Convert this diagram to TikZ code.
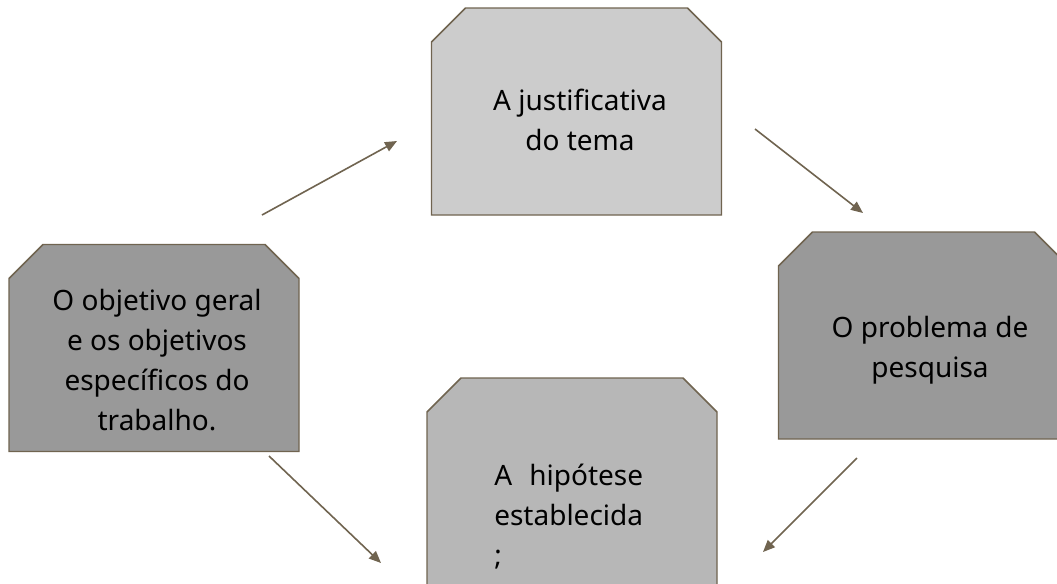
\documentclass[tikz,border=0pt]{standalone}
\usepackage{fontspec}
\usepackage{calc}
\setmainfont{Noto Sans}
\usetikzlibrary{arrows.meta}
\definecolor{linha}{RGB}{112,100,80}
\definecolor{cinzaclaro}{HTML}{CCCCCC}
\definecolor{cinzamedio}{HTML}{B7B7B7}
\definecolor{cinzaescuro}{HTML}{999999}

\begin{document}
\begin{tikzpicture}[x=0.75pt,y=-0.75pt,
		caixa/.pic={\filldraw[draw=linha, line width=1.1pt, fill=#1]
			(-145,103.5) -- (-145,-69.5) -- (-111,-103.5) -- (111,-103.5) -- (145,-69.5) -- (145,103.5) -- cycle;
			\coordinate (-centro) at (0,0);},
		texto/.style={font=\fontsize{21}{30}\selectfont, align=center, inner sep=0pt},
		seta/.style={draw=linha, line width=1.2pt, -{Triangle[length=9pt,width=7.5pt]}}]
		\path[use as bounding box, clip] (0,0) rectangle (1057,583);
		\fill[white] (0,0) rectangle (1057,583);
		% caixas
		\pic (justificativa) at (576.5,111.5) {caixa=cinzaclaro};
		\pic (objetivos) at (154,348) {caixa=cinzaescuro};
		\pic (problema) at (923.5,335.5) {caixa=cinzaescuro};
		\pic (hipotese) at (572,481.5) {caixa=cinzamedio};
		% textos
		\node[texto] (tjustificativa) at (580,120) {A justificativa\\do tema};
		\node[texto] (tobjetivos) at (157,360) {O objetivo geral\\e os objetivos\\específicos do\\trabalho.};
		\node[texto] (tproblema) at (930,350) {O problema de\\pesquisa};
		\node[texto, align=left, anchor=west] (thipotese) at (494,517) {\makebox[\widthof{establecida}][s]{A\hfill hipótese}\\establecida\\;};
		% setas
		\coordinate (s1a) at (262,215); \coordinate (s1b) at (397,141);
		\coordinate (s2a) at (755,129); \coordinate (s2b) at (863,213);
		\coordinate (s3a) at (857,458); \coordinate (s3b) at (763,552);
		\coordinate (s4a) at (269,456); \coordinate (s4b) at (381,563);
		\draw[seta] (s1a) -- (s1b);
		\draw[seta] (s2a) -- (s2b);
		\draw[seta] (s3a) -- (s3b);
		\draw[seta] (s4a) -- (s4b);
	\end{tikzpicture}
\end{document}
